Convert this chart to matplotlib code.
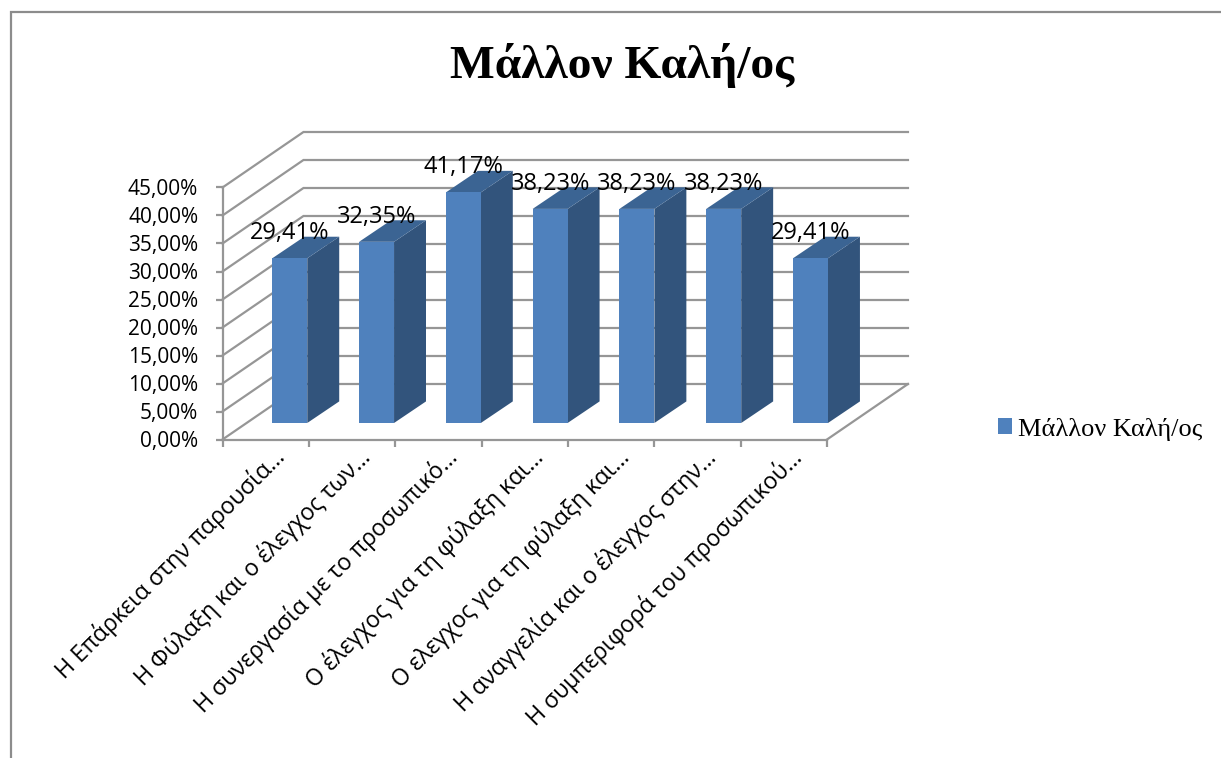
import matplotlib
matplotlib.use("Agg")
import matplotlib.pyplot as plt
from matplotlib.lines import Line2D
from matplotlib.patches import Patch, Polygon

plt.rcParams["font.family"] = ["Open Sans", "DejaVu Sans"]

title = "Μάλλον Καλή/ος"
categories = [
    "Η Επάρκεια στην παρουσία…",
    "Η Φύλαξη και ο έλεγχος των…",
    "Η συνεργασία με το προσωπικό…",
    "Ο έλεγχος για τη φύλαξη και…",
    "Ο ελεγχος για τη φύλαξη και…",
    "Η αναγγελία και ο έλεγχος στην…",
    "Η συμπεριφορά του προσωπικού…",
]
values = [29.41, 32.35, 41.17, 38.23, 38.23, 38.23, 29.41]
y_ticks = [0, 5, 10, 15, 20, 25, 30, 35, 40, 45]

W, H = 1221, 758
GRID = "#969696"
FRONT = "#4F81BD"
SIDE = "#32547C"
TOP = "#3B6493"

# depth of the fake 3d box, in data units (cat / percent)
DEPTH_X = 81 / 86.4
DEPTH_Y = 55.5 / 5.6
BAR_W = 0.405
BAR_STEP = 1.005
BAR_SHIFT_X = 0.279
BAR_SHIFT_Y = 2.95
BAR_DEPTH_X = 0.37
BAR_DEPTH_Y = 3.85


def fmt(v):
    return f"{v:.2f}".replace(".", ",") + "%"


fig = plt.figure(figsize=(W / 100, H / 100), dpi=100)
ax = fig.add_axes([222.5 / W, 1 - 439.5 / H, 604.5 / W, 252 / H])
ax.set_xlim(0, len(categories))
ax.set_ylim(0, 45)
ax.patch.set_visible(False)
for s in ax.spines.values():
    s.set_visible(False)

# walls
for y in y_ticks:
    ax.plot([0, DEPTH_X, len(categories) + DEPTH_X], [y, y + DEPTH_Y, y + DEPTH_Y],
            color=GRID, lw=1.6, clip_on=False, zorder=1, solid_joinstyle="miter")
ax.plot([0, 0], [0, 45], color=GRID, lw=1.6, clip_on=False, zorder=2)
ax.plot([0, len(categories)], [0, 0], color=GRID, lw=1.6, clip_on=False, zorder=2)
ax.plot([len(categories), len(categories) + DEPTH_X], [0, DEPTH_Y],
        color=GRID, lw=1.6, clip_on=False, zorder=2)

# bars
for i, v in enumerate(values):
    x0 = i * BAR_STEP + 0.5 + BAR_SHIFT_X - BAR_W / 2
    x1 = x0 + BAR_W
    y0 = BAR_SHIFT_Y
    y1 = y0 + v
    dx, dy = BAR_DEPTH_X, BAR_DEPTH_Y
    ax.add_patch(Polygon([(x1, y0), (x1 + dx, y0 + dy), (x1 + dx, y1 + dy), (x1, y1)],
                         fc=SIDE, ec="none", clip_on=False, zorder=3))
    ax.add_patch(Polygon([(x0, y1), (x1, y1), (x1 + dx, y1 + dy), (x0 + dx, y1 + dy)],
                         fc=TOP, ec="none", clip_on=False, zorder=3))
    ax.add_patch(Polygon([(x0, y0), (x1, y0), (x1, y1), (x0, y1)],
                         fc=FRONT, ec="none", clip_on=False, zorder=4))
    ax.annotate(fmt(v), ((x0 + x1) / 2, y1), xytext=(0, 25 * 0.72),
                textcoords="offset points", ha="center", va="center",
                fontsize=17, color="black", zorder=6, annotation_clip=False)

ax.set_yticks(y_ticks)
ax.set_yticklabels([fmt(y) for y in y_ticks], fontsize=15)
ax.tick_params(axis="y", length=5, width=1.6, color=GRID, pad=12.5)
ax.set_xticks(range(len(categories) + 1))
ax.set_xticklabels([])
ax.tick_params(axis="x", length=5, width=1.6, color=GRID)

for i, c in enumerate(categories):
    ax.annotate(c, (i + 0.5, 0), xytext=(6 * 0.72, -5 * 0.72),
                textcoords="offset points", ha="right", va="top", rotation=45,
                rotation_mode="anchor", fontsize=16.7, annotation_clip=False)

fig.text(622 / W, 1 - 66 / H, title, ha="center", va="center", fontsize=34.2,
         fontweight="bold", family="Liberation Serif")

fig.legend(handles=[Patch(fc=FRONT, ec="none", label=title)],
           loc="center left", bbox_to_anchor=(980 / W, 1 - 429 / H), frameon=False,
           prop={"family": "Liberation Serif", "size": 19}, handlelength=0.53,
           handleheight=0.53, handletextpad=0.2, borderpad=0.2)

# outer frame, cut off by the screenshot on the right and bottom
fig.add_artist(Line2D([11 / W, 11 / W, 1], [0, 1 - 12 / H, 1 - 12 / H], color="#8C8C8C",
                      lw=1.6, solid_joinstyle="miter"))

fig.savefig("out.png", dpi=100)
